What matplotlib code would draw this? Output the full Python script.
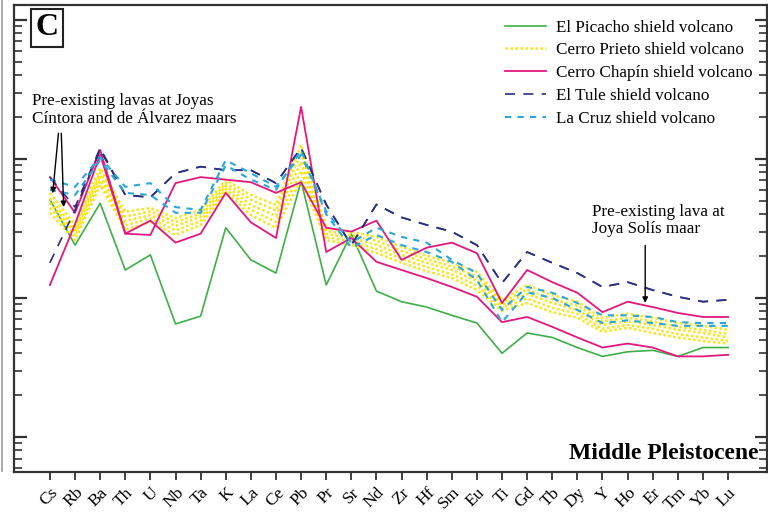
import matplotlib
matplotlib.use("Agg")
import matplotlib.pyplot as plt
import numpy as np
from matplotlib.ticker import LogLocator, NullFormatter
from matplotlib.lines import Line2D

plt.rcParams['font.family'] = ['Liberation Serif', 'DejaVu Serif']

elements = ['Cs', 'Rb', 'Ba', 'Th', 'U', 'Nb', 'Ta', 'K', 'La', 'Ce', 'Pb', 'Pr', 'Sr', 'Nd',
            'Zr', 'Hf', 'Sm', 'Eu', 'Ti', 'Gd', 'Tb', 'Dy', 'Y', 'Ho', 'Er', 'Tm', 'Yb', 'Lu']

# normalized concentrations
picacho = [51, 24, 48, 15.9, 20.4, 6.5, 7.4, 32, 18.8, 15.1, 69.5, 12.4, 28.9, 11.2,
           9.4, 8.6, 7.5, 6.6, 4.0, 5.6, 5.2, 4.4, 3.8, 4.1, 4.2, 3.8, 4.4, 4.4]

prieto_1 = [57, 33.5, 86, 41.6, 44.4, 37.6, 43.0, 70.6, 55.1, 46.7, 126, 31.9, 29.8, 27.5,
            23.3, 20.1, 17.9, 15.4, 9.7, 12.4, 10.5, 9.4, 7.2, 7.7, 7.2, 6.6, 6.3, 5.9]
prieto_2 = [52, 31.5, 80, 38.5, 42, 35.2, 40.5, 67, 51, 42.5, 110, 30.3, 28.4, 25.8,
            21.8, 19.0, 16.8, 14.3, 9.3, 11.5, 9.8, 8.8, 6.8, 7.2, 6.8, 6.2, 5.9, 5.5]
prieto_3 = [48.2, 29.8, 75.5, 35.8, 39.5, 33.0, 38.3, 63.9, 46.7, 38.9, 95, 28.9, 27.0, 24.1,
            20.4, 17.9, 15.9, 13.3, 8.9, 10.7, 9.2, 8.2, 6.4, 6.8, 6.4, 5.9, 5.6, 5.2]
prieto_4 = [44.5, 28, 70, 33.3, 37.3, 30.6, 35.8, 60.8, 43, 35.2, 82, 27.4, 25.5, 22.5,
            19.1, 16.7, 14.8, 12.3, 8.5, 9.9, 8.5, 7.7, 6.0, 6.4, 6.0, 5.5, 5.2, 4.9]
prieto_5 = [40.9, 26.1, 65.0, 30.9, 35.2, 28.4, 33.5, 57.9, 39.5, 31.9, 70.6, 26.1, 24.1, 21.1,
            17.9, 15.6, 13.9, 11.4, 8.1, 9.2, 7.9, 7.2, 5.7, 6.1, 5.6, 5.2, 4.9, 4.7]

chapin_1 = [74, 41, 116, 29, 36, 25, 29, 57, 35, 27, 237, 21.4, 27, 18.2,
            15.9, 13.9, 12.0, 10.2, 6.7, 7.3, 6.2, 5.2, 4.4, 4.7, 4.4, 3.8, 3.8, 3.9]
chapin_2 = [12.4, 34, 107, 29, 28.4, 67, 74, 71, 68, 57, 68, 32, 30, 36,
            18.8, 23, 25, 21, 9.2, 15.9, 13.0, 10.9, 7.9, 9.4, 8.6, 7.8, 7.3, 7.3]

tule_1 = [74, 45, 120, 55, 53, 79, 88, 83, 83, 67, 120, 47, 24, 47,
          38, 33.5, 30, 24, 12.8, 21.4, 17.9, 15.1, 12.0, 13.0, 11.4, 10.2, 9.4, 9.7]
tule_2 = [17.9, 43, 116, 55, 53, 79, 88, 83, 83, 67, 120, 47, 24, 47,
          38, 33.5, 30, 24, 12.8, 21.4, 17.9, 15.1, 12.0, 13.0, 11.4, 10.2, 9.4, 9.7]

cruz_1 = [71, 63, 103, 63, 67, 45, 43, 98, 79, 63, 107, 42, 25, 32,
          27.5, 25, 18.8, 15.1, 8.2, 12.0, 10.9, 9.2, 7.5, 7.5, 7.3, 6.7, 6.6, 6.6]
cruz_2 = [60, 55, 98, 57, 55, 41, 41, 90, 71, 60, 116, 40, 23, 28.4,
          24, 21.4, 18.2, 13.5, 6.7, 11.0, 10.0, 8.2, 6.6, 6.9, 6.6, 6.3, 6.3, 6.3]

green = '#3fae49'
yellow = '#f8e51a'
magenta = '#e3177d'
navy = '#2b2f7f'
cyan = '#2aa6dc'

x = np.arange(len(elements))

fig = plt.figure(figsize=(7.68, 5.12), dpi=100)
ax = fig.add_axes([14 / 768, 40 / 512, 753 / 768, 467 / 512])

ax.plot(x, picacho, color=green, lw=1.2, label='El Picacho shield volcano')
for i, s in enumerate([prieto_1, prieto_2, prieto_3, prieto_4, prieto_5]):
    ax.plot(x, s, color=yellow, lw=1.8, ls=(0, (1, 1)),
            label='Cerro Prieto shield volcano' if i == 0 else None)
for i, s in enumerate([chapin_1, chapin_2]):
    ax.plot(x, s, color=magenta, lw=1.3,
            label='Cerro Chapín shield volcano' if i == 0 else None)
for i, s in enumerate([tule_1, tule_2]):
    ax.plot(x, s, color=navy, lw=1.2, ls=(0, (6, 5)),
            label='El Tule shield volcano' if i == 0 else None)
for i, s in enumerate([cruz_1, cruz_2]):
    ax.plot(x, s, color=cyan, lw=1.5, ls=(0, (3, 3)),
            label='La Cruz shield volcano' if i == 0 else None)

ax.set_yscale('log')
ax.set_ylim(0.56, 1280)
ax.set_xlim(-1.43, 28.55)
ax.yaxis.set_major_locator(LogLocator(base=10))
ax.yaxis.set_minor_locator(LogLocator(base=10, subs=np.arange(2, 10)))
ax.yaxis.set_major_formatter(NullFormatter())
ax.yaxis.set_minor_formatter(NullFormatter())
ax.tick_params(axis='y', which='major', direction='in', length=9, width=1.6,
               left=True, right=True, color='#333333')
ax.tick_params(axis='y', which='minor', direction='in', length=6, width=1.2,
               left=True, right=True, color='#333333')

ax.set_xticks(x)
ax.set_xticklabels(elements, rotation=45, ha='right', rotation_mode='anchor', fontsize=12.5)
ax.tick_params(axis='x', direction='out', length=6, width=1.3, color='#333333', pad=3)

for sp in ax.spines.values():
    sp.set_linewidth(1.6)
    sp.set_color('#333333')

leg = ax.legend(loc='upper right', frameon=False, fontsize=12.3, handlelength=2.4,
                labelspacing=0.4, borderaxespad=0.45, handletextpad=0.6)

ax.text(0.028, 0.982, 'C', transform=ax.transAxes, fontsize=23, fontweight='bold',
        va='top', ha='left',
        bbox=dict(boxstyle='square,pad=0.14', fc='white', ec='#222222', lw=1.5))

ax.text(0.989, 0.04, 'Middle Pleistocene', transform=ax.transAxes, fontsize=17,
        fontweight='bold', ha='right', va='center')

ax.text(-0.7, 225, 'Pre-existing lavas at Joyas\nCíntora and de Álvarez maars',
        fontsize=12.3, ha='left', va='center', linespacing=1.1)
ax.annotate('', xy=(0.1, 54), xytext=(0.35, 160),
            arrowprops=dict(arrowstyle='-|>', color='black', lw=1.0, mutation_scale=8))
ax.annotate('', xy=(0.55, 43), xytext=(0.45, 160),
            arrowprops=dict(arrowstyle='-|>', color='black', lw=1.0, mutation_scale=8))

ax.text(21.6, 36, 'Pre-existing lava at\nJoya Solís maar', fontsize=12.3,
        ha='left', va='center', linespacing=1.1)
ax.annotate('', xy=(23.7, 8.8), xytext=(23.7, 25),
            arrowprops=dict(arrowstyle='-|>', color='black', lw=1.0, mutation_scale=8))

fig.add_artist(Line2D([0.003, 0.003], [0.08, 1.0], color='#999999', lw=1.2))

fig.savefig('out.png', dpi=100, facecolor='white')
